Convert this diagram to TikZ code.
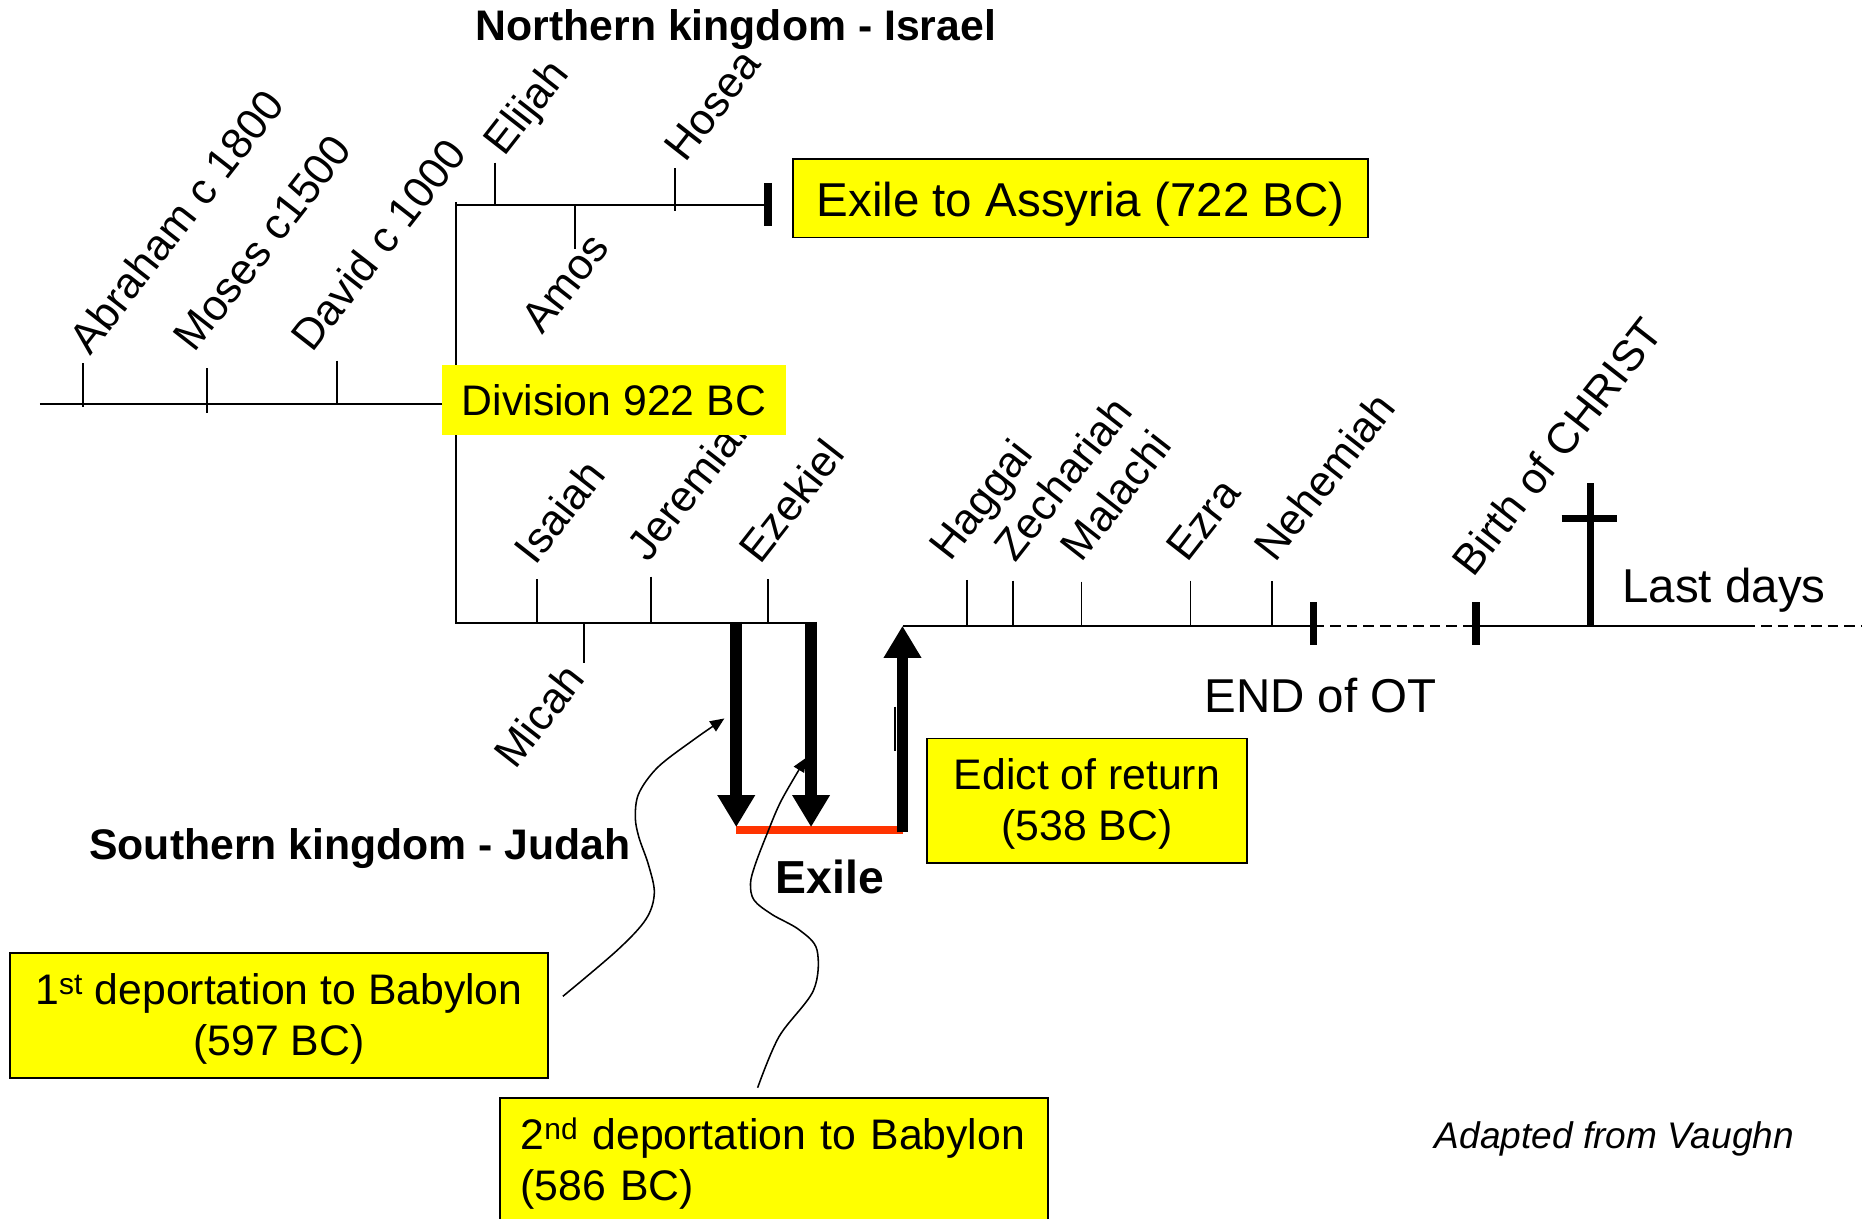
\documentclass[tikz,border=0pt]{standalone}
\usepackage{fontspec}
\setmainfont{Liberation Sans}
\usetikzlibrary{arrows.meta}
\definecolor{byellow}{RGB}{255,255,0}
\definecolor{xred}{RGB}{255,51,0}
\begin{document}
\begin{tikzpicture}[x=1pt,y=-1pt,
  tl/.style={line width=1.6pt},
  endbar/.style={line width=6.5pt},
  plbl/.style={font=\fontsize{36.5}{43}\selectfont, rotate=52, anchor=base west, inner sep=0pt},
  ybox/.style={fill=byellow, draw=black, line width=1.6pt, inner sep=0pt},
  boxtext/.style={inner sep=0pt, font=\fontsize{36}{43}\selectfont, align=center},
  bigarr/.style={line width=10pt, -{Triangle[length=27pt,width=30pt]}},
  callout/.style={line width=1.3pt, -{Triangle[length=12pt,width=10pt]}},
  txt/.style={inner sep=0pt, anchor=base west},
]
\useasboundingbox (0,0) rectangle (1568,1026);
\clip (0,0) rectangle (1568,1026);

% ---------- key points ----------
\coordinate (L0) at (33.5,340.2);
\coordinate (Ljun) at (383.7,340.2);
\coordinate (Ntop) at (383.7,173);
\coordinate (Nend) at (647,173);
\coordinate (Sjun) at (383.7,524.4);
\coordinate (Send) at (687.7,524.4);
\coordinate (A1top) at (620,523.6);
\coordinate (A1bot) at (620,696.5);
\coordinate (A2top) at (683,523.6);
\coordinate (A2bot) at (683,696.5);
\coordinate (Ubot) at (760,701);
\coordinate (Utop) at (760,527);
\coordinate (R1) at (1106,527);
\coordinate (R2) at (1243,527);
\coordinate (R3) at (1475,527);
\coordinate (R4) at (1427,527.5);
\coordinate (R5) at (1568,527.5);
\coordinate (Xl) at (620,699);
\coordinate (Xr) at (760.6,699);

% ---------- main timeline ----------
\draw[tl] (L0) -- (Ljun);
\draw[tl] (Nend) -- (Ntop) -- (Sjun) -- (Send);
\draw[tl] (383.7,170) -- (Ntop);

% ticks on the first line
\draw[tl] (70.2,306) -- (70.2,343);
\draw[tl] (174,310) -- (174,347.5);
\draw[tl] (283.6,303.7) -- (283.6,340.5);
% ticks north
\draw[tl] (417,137) -- (417,173);
\draw[tl] (568.4,141.5) -- (568.4,178);
\draw[tl] (484,173) -- (484,209.6);
\draw[endbar] (647,154) -- (647,190);
% ticks south
\draw[tl] (451.9,487.6) -- (451.9,524.4);
\draw[tl] (548.5,485.6) -- (548.5,524.4);
\draw[tl] (646.7,487.6) -- (646.7,524.4);
\draw[tl] (491.5,524.4) -- (491.5,558.6);

% labels
\node[plbl] (abraham) at (76,300) {Abraham c 1800};
\node[plbl] (moses) at (164,298) {Moses c1500};
\node[plbl] (david) at (263,298) {David c 1000};
\node[plbl] (elijah) at (425,133) {Elijah};
\node[plbl] (hosea) at (577,138) {Hosea};
\node[plbl] (amos) at (457,283) {Amos};
\node[plbl] (isaiah) at (451,477) {Isaiah};
\node[plbl] (jeremiah) at (546,475) {Jeremiah};
\node[plbl] (ezekiel) at (640,476) {Ezekiel};
\node[plbl] (micah) at (434,649) {Micah};
\node[plbl] (haggai) at (800,474) {Haggai};
\node[plbl] (zechariah) at (855,475) {Zechariah};
\node[plbl] (malachi) at (911,475) {Malachi};
\node[plbl] (ezra) at (1000,475) {Ezra};
\node[plbl] (nehemiah) at (1074,475) {Nehemiah};
\node[plbl] (birth) at (1241,487) {Birth of CHRIST};

% boxes
\node[fill=byellow, inner sep=0pt, minimum width=289pt, minimum height=58.6pt,
      font=\fontsize{36}{43}\selectfont] (division) at (517,336.7) {Division 922 BC};
\node[ybox, minimum width=484pt, minimum height=66pt] (assyria) at (910,167) {};
\node[boxtext, font=\fontsize{40}{48}\selectfont] (assyriatext) at ([yshift=-5pt]assyria.center) {Exile to Assyria (722 BC)};

% ---------- exile ----------
\draw[xred, line width=6.5pt] (Xl) -- (Xr);
\draw[bigarr] (A1top) -- (A1bot);
\draw[bigarr] (A2top) -- (A2bot);
\draw[bigarr] (Ubot) -- (Utop);
\draw[line width=1.8pt] (753.7,595) -- (753.7,632);

% ---------- right timeline ----------
\draw[tl] (Utop) -- (R1);
\draw[tl, dash pattern=on 9pt off 5pt] (R1) -- (R2);
\draw[tl] (R2) -- (R3);
\draw[tl, dash pattern=on 9pt off 5pt] (R4) -- (R5);
\draw[endbar] (1106,507) -- (1106,543);
\draw[endbar] (1243,507) -- (1243,543);
\draw[tl] (814.5,488.4) -- (814.5,527);
\draw[tl] (853,489) -- (853,527);
\draw[tl] (910.7,489.7) -- (910.7,527);
\draw[tl] (1002.5,489) -- (1002.5,527);
\draw[tl] (1071,489.3) -- (1071,527);
% cross
\coordinate (Ctop) at (1339,407);
\coordinate (Cbot) at (1339,527);
\draw[line width=6pt] (Ctop) -- (Cbot);
\draw[line width=5.6pt] (1315,436.5) -- (1362,436.5);

% texts
\node[txt, font=\bfseries\fontsize{36}{43}\selectfont] (north) at (400.4,33.7) {Northern kingdom - Israel};
\node[txt, font=\bfseries\fontsize{36}{43}\selectfont] (south) at (75,723.5) {Southern kingdom - Judah};
\node[txt, font=\bfseries\fontsize{39}{46}\selectfont] (exile) at (653,752.5) {Exile};
\node[txt, font=\fontsize{40}{48}\selectfont] (lastdays) at (1366,507.5) {Last days};
\node[txt, font=\fontsize{40}{48}\selectfont] (endot) at (1014,600) {END of OT};
\node[txt, font=\itshape\fontsize{31.2}{37}\selectfont] (vaughn) at (1208,967.5) {Adapted from Vaughn};

\node[ybox, minimum width=269.3pt, minimum height=104.7pt] (edict) at (915.3,674.2) {};
\node[boxtext] (edicttext) at ([yshift=-3pt]edict.center) {Edict of return\\(538 BC)};
\node[ybox, minimum width=453pt, minimum height=105pt] (dep1) at (234.9,855.3) {};
\node[boxtext] (dep1text) at ([yshift=-3pt]dep1.center) {1\textsuperscript{st} deportation to Babylon\\(597 BC)};
\node[ybox, anchor=north west, minimum height=110pt, text width=427pt, inner xsep=17pt, align=left,
      font=\fontsize{36}{43}\selectfont] (dep2) at (420.6,924) {2\textsuperscript{nd} deportation to Babylon\\(586 BC)};

% callout curves
\coordinate (c1s) at (474,839);
\coordinate (c1e) at (610,605);
\coordinate (c2s) at (638,916);
\coordinate (c2e) at (679,638);
\draw[callout] plot[smooth, tension=0.55] coordinates {(c1s) (520,800) (544,774) (551,752) (546,728) (538,705) (535,688) (538,668) (554,646) (584,623) (c1e)};
\draw[callout] plot[smooth, tension=0.55] coordinates {(c2s) (656,873) (685,834) (688,800) (673,783) (650,770) (635,758) (632,744) (636,728) (646,702) (658,674) (c2e)};
\end{tikzpicture}
\end{document}
